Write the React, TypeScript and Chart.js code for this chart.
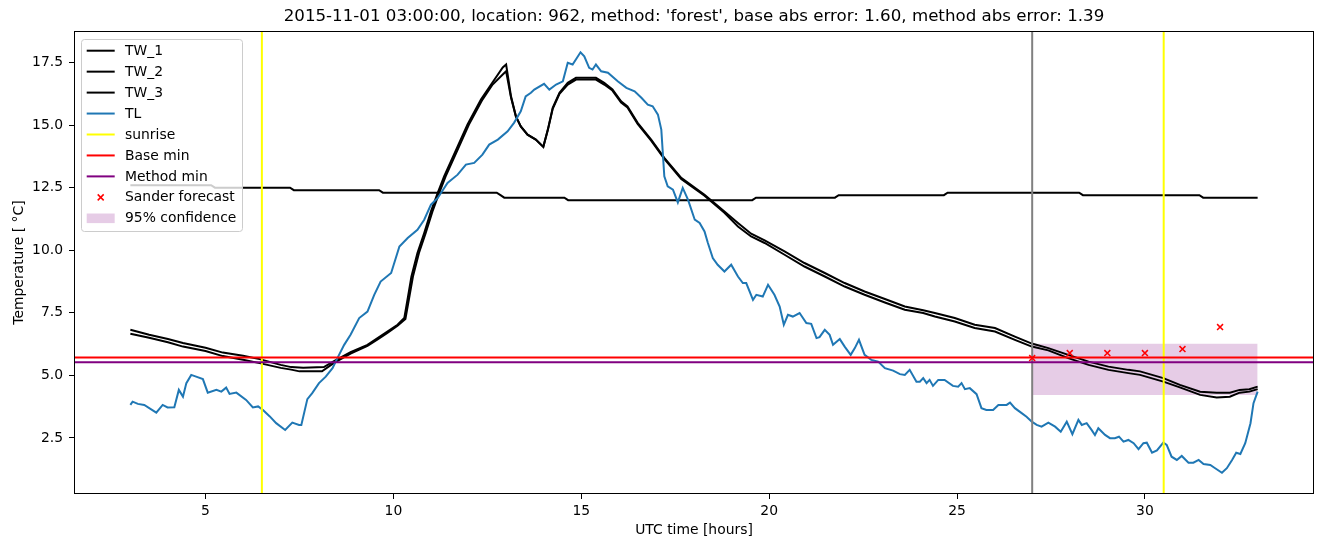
import React, { useEffect, useRef } from 'react';
import { Chart, registerables } from 'chart.js';

Chart.register(...registerables);

const TITLE = "2015-11-01 03:00:00, location: 962, method: 'forest', base abs error: 1.60, method abs error: 1.39";
const X_LABEL = 'UTC time [hours]';
const Y_LABEL = 'Temperature [ \u00B0C]';

const X_MIN = 1.5;
const X_MAX = 34.5;
const Y_MIN = 0.26;
const Y_MAX = 18.76;
const X_TICKS = [5, 10, 15, 20, 25, 30];
const Y_TICKS = [2.5, 5, 7.5, 10, 12.5, 15, 17.5];

const TW_1: [number, number][] = [
  [3, 12.6], [5.15, 12.6], [5.25, 12.5], [7.25, 12.5], [7.35, 12.4], [9.62, 12.4], [9.72, 12.3],
  [12.75, 12.3], [12.85, 12.2], [12.95, 12.1], [14.55, 12.1], [14.65, 12.0], [19.55, 12.0],
  [19.65, 12.1], [21.75, 12.1], [21.85, 12.2], [24.65, 12.2], [24.75, 12.3], [28.25, 12.3],
  [28.35, 12.2], [31.45, 12.2], [31.55, 12.1], [33, 12.1],
];

const TW_2: [number, number][] = [
  [3.0, 6.82], [3.5, 6.62], [4.0, 6.45], [4.4, 6.29], [5.0, 6.1], [5.46, 5.91], [6.0, 5.78],
  [6.44, 5.65], [7.0, 5.42], [7.28, 5.33], [7.6, 5.3], [8.15, 5.33], [8.42, 5.57], [8.86, 5.93],
  [9.31, 6.22], [9.58, 6.49], [9.84, 6.75], [10.11, 7.02], [10.29, 7.29], [10.39, 8.15],
  [10.48, 8.95], [10.64, 9.89], [10.82, 10.69], [11.0, 11.55], [11.18, 12.29], [11.35, 12.95],
  [11.53, 13.55], [11.71, 14.15], [11.97, 15.02], [12.33, 16.02], [12.6, 16.62], [12.91, 17.3],
  [13.0, 17.42], [13.13, 16.15], [13.26, 15.35], [13.39, 14.95], [13.57, 14.62], [13.79, 14.42],
  [13.99, 14.13], [14.11, 14.82], [14.24, 15.69], [14.42, 16.29], [14.64, 16.69], [14.86, 16.89],
  [15.39, 16.89], [15.61, 16.69], [15.83, 16.42], [16.06, 15.95], [16.23, 15.75], [16.5, 15.09],
  [16.86, 14.42], [17.21, 13.69], [17.66, 12.89], [18.28, 12.22], [18.81, 11.55], [19.17, 11.09],
  [19.52, 10.66], [19.88, 10.39], [20.41, 9.95], [20.94, 9.49], [21.48, 9.09], [22.01, 8.69],
  [22.54, 8.35], [23.08, 8.05], [23.61, 7.75], [24.1, 7.6], [24.41, 7.49], [24.94, 7.29],
  [25.47, 7.02], [26.01, 6.89], [26.54, 6.55], [26.99, 6.27], [27.43, 6.09], [27.96, 5.82],
  [28.5, 5.55], [29.03, 5.35], [29.56, 5.22], [29.87, 5.16], [30.49, 4.89], [30.93, 4.62],
  [31.47, 4.35], [31.91, 4.31], [32.26, 4.31], [32.52, 4.42], [32.78, 4.45], [33.0, 4.55],
];

const TW_3: [number, number][] = [
  [3.0, 6.66], [3.5, 6.5], [4.0, 6.32], [4.4, 6.15], [5.0, 5.97], [5.46, 5.77], [6.0, 5.62],
  [6.44, 5.49], [7.0, 5.3], [7.28, 5.23], [7.5, 5.16], [8.1, 5.16], [8.42, 5.5], [8.86, 5.87],
  [9.31, 6.18], [9.58, 6.44], [9.84, 6.7], [10.11, 6.98], [10.32, 7.25], [10.42, 8.1],
  [10.52, 8.95], [10.68, 9.89], [10.86, 10.69], [11.04, 11.55], [11.22, 12.29], [11.39, 12.95],
  [11.57, 13.55], [11.75, 14.15], [12.01, 15.02], [12.37, 16.02], [12.64, 16.62], [12.93, 17.05],
  [13.0, 17.15], [13.13, 16.1], [13.26, 15.35], [13.39, 14.95], [13.57, 14.62], [13.79, 14.42],
  [13.99, 14.13], [14.11, 14.8], [14.24, 15.65], [14.42, 16.25], [14.64, 16.62], [14.86, 16.82],
  [15.39, 16.82], [15.61, 16.62], [15.83, 16.38], [16.06, 15.9], [16.23, 15.7], [16.5, 15.05],
  [16.86, 14.38], [17.21, 13.65], [17.66, 12.85], [18.28, 12.18], [18.81, 11.5], [19.17, 10.95],
  [19.52, 10.55], [19.88, 10.29], [20.41, 9.82], [20.94, 9.35], [21.48, 8.95], [22.01, 8.55],
  [22.54, 8.22], [23.08, 7.91], [23.61, 7.62], [24.1, 7.49], [24.41, 7.35], [24.94, 7.15],
  [25.47, 6.89], [26.01, 6.75], [26.54, 6.42], [26.99, 6.15], [27.43, 6.0], [27.96, 5.69],
  [28.5, 5.42], [29.03, 5.22], [29.56, 5.09], [29.87, 5.02], [30.49, 4.75], [30.93, 4.52],
  [31.47, 4.22], [31.91, 4.12], [32.26, 4.15], [32.52, 4.31], [32.78, 4.35], [33.0, 4.45],
];

const TL: [number, number][] = [
  [3.0, 3.82], [3.06, 3.95], [3.2, 3.86], [3.37, 3.82], [3.69, 3.51], [3.86, 3.82], [3.99, 3.72],
  [4.17, 3.73], [4.29, 4.42], [4.4, 4.15], [4.49, 4.69], [4.62, 5.02], [4.75, 4.95], [4.93, 4.85],
  [5.06, 4.31], [5.29, 4.42], [5.42, 4.35], [5.55, 4.51], [5.64, 4.26], [5.82, 4.31], [6.08, 4.02],
  [6.26, 3.72], [6.4, 3.76], [6.53, 3.62], [6.71, 3.36], [6.88, 3.09], [7.12, 2.82], [7.31, 3.11],
  [7.49, 3.02], [7.55, 3.02], [7.71, 4.05], [7.84, 4.29], [8.02, 4.69], [8.2, 4.95], [8.38, 5.29],
  [8.51, 5.69], [8.69, 6.22], [8.86, 6.62], [9.09, 7.29], [9.31, 7.55], [9.49, 8.22], [9.66, 8.75],
  [9.94, 9.09], [10.16, 10.15], [10.38, 10.49], [10.64, 10.82], [10.82, 11.22], [11.0, 11.82],
  [11.18, 12.09], [11.44, 12.69], [11.71, 13.02], [11.93, 13.42], [12.15, 13.49], [12.37, 13.82],
  [12.55, 14.22], [12.78, 14.42], [13.04, 14.75], [13.21, 15.09], [13.39, 15.55], [13.52, 16.15],
  [13.66, 16.29], [13.75, 16.42], [14.01, 16.65], [14.15, 16.42], [14.33, 16.62], [14.51, 16.75],
  [14.64, 17.49], [14.77, 17.42], [14.98, 17.91], [15.08, 17.75], [15.21, 17.29], [15.3, 17.22],
  [15.39, 17.42], [15.53, 17.15], [15.71, 17.09], [15.97, 16.75], [16.2, 16.49], [16.42, 16.35],
  [16.6, 16.09], [16.77, 15.82], [16.9, 15.75], [17.04, 15.42], [17.13, 14.82], [17.21, 12.95],
  [17.3, 12.55], [17.44, 12.42], [17.57, 11.91], [17.7, 12.49], [17.84, 12.02], [18.02, 11.22],
  [18.15, 11.09], [18.28, 10.75], [18.37, 10.29], [18.5, 9.69], [18.63, 9.42], [18.81, 9.15],
  [18.99, 9.42], [19.17, 8.95], [19.3, 8.69], [19.39, 8.69], [19.57, 8.02], [19.66, 8.22],
  [19.83, 8.15], [19.97, 8.62], [20.14, 8.22], [20.28, 7.75], [20.39, 7.02], [20.5, 7.42],
  [20.63, 7.35], [20.81, 7.49], [20.99, 7.09], [21.12, 7.06], [21.26, 6.49], [21.34, 6.53],
  [21.48, 6.82], [21.61, 6.62], [21.7, 6.22], [21.88, 6.45], [22.01, 6.15], [22.17, 5.82],
  [22.28, 6.09], [22.39, 6.42], [22.54, 5.82], [22.72, 5.62], [22.9, 5.55], [23.08, 5.29],
  [23.3, 5.19], [23.48, 5.05], [23.61, 5.02], [23.74, 5.22], [23.92, 4.75], [24.01, 4.75],
  [24.1, 4.89], [24.19, 4.69], [24.27, 4.82], [24.36, 4.58], [24.5, 4.82], [24.67, 4.82],
  [24.89, 4.58], [25.03, 4.55], [25.12, 4.69], [25.21, 4.45], [25.34, 4.49], [25.52, 4.25],
  [25.65, 3.69], [25.78, 3.62], [25.96, 3.62], [26.1, 3.82], [26.32, 3.82], [26.41, 3.91],
  [26.54, 3.69], [26.72, 3.49], [26.85, 3.35], [26.99, 3.15], [27.12, 3.02], [27.25, 2.95],
  [27.43, 3.11], [27.61, 2.95], [27.76, 2.75], [27.92, 3.15], [28.07, 2.65], [28.23, 3.22],
  [28.32, 3.02], [28.45, 3.09], [28.58, 2.82], [28.67, 2.62], [28.76, 2.89], [28.94, 2.62],
  [29.07, 2.49], [29.2, 2.49], [29.31, 2.55], [29.43, 2.35], [29.56, 2.42], [29.7, 2.29],
  [29.83, 2.05], [29.96, 2.29], [30.05, 2.31], [30.19, 1.91], [30.32, 2.0], [30.49, 2.31],
  [30.58, 2.22], [30.71, 1.75], [30.85, 1.62], [30.98, 1.78], [31.16, 1.51], [31.29, 1.51],
  [31.43, 1.62], [31.56, 1.46], [31.74, 1.42], [31.87, 1.29], [32.05, 1.11], [32.18, 1.29],
  [32.32, 1.62], [32.43, 1.91], [32.54, 1.86], [32.67, 2.29], [32.81, 3.09], [32.89, 3.89],
  [33.0, 4.35],
];

const SUNRISE_HOURS = [6.5, 30.5];
const FORECAST_HOUR = 27;
const BASE_MIN = 5.71;
const METHOD_MIN = 5.52;
const SANDER_HOURS = [27, 28, 29, 30, 31, 32];
const SANDER_VALUES = [5.69, 5.89, 5.89, 5.89, 6.05, 6.93];
const CONF_HOURS = [27, 33];
const CONF_LOW = 4.22;
const CONF_HIGH = 6.26;

const FONT = '"DejaVu Sans", "Liberation Sans", sans-serif';

const LEGEND_ITEMS = [
  { label: 'TW_1', kind: 'line', color: '#000000' },
  { label: 'TW_2', kind: 'line', color: '#000000' },
  { label: 'TW_3', kind: 'line', color: '#000000' },
  { label: 'TL', kind: 'line', color: '#1f77b4' },
  { label: 'sunrise', kind: 'line', color: '#ffff00' },
  { label: 'Base min', kind: 'line', color: '#ff0000' },
  { label: 'Method min', kind: 'line', color: '#800080' },
  { label: 'Sander forecast', kind: 'x', color: '#ff0000' },
  { label: '95% confidence', kind: 'patch', color: 'rgba(128,0,128,0.2)' },
];

const pts = (arr: [number, number][]) => arr.map(([x, y]) => ({ x, y }));

const decorPlugin = {
  id: 'decor',
  beforeDraw(chart: any) {
    const { ctx } = chart;
    ctx.save();
    ctx.fillStyle = '#ffffff';
    ctx.fillRect(0, 0, chart.width, chart.height);
    ctx.restore();
  },
  afterDraw(chart: any) {
    const { ctx, chartArea: a } = chart;
    ctx.save();
    // frame (all four spines)
    ctx.strokeStyle = '#000000';
    ctx.lineWidth = 1;
    ctx.strokeRect(a.left + 0.5, a.top + 0.5, a.right - a.left - 1, a.bottom - a.top - 1);

    const cx = (a.left + a.right) / 2;
    ctx.fillStyle = '#000000';
    ctx.textAlign = 'center';
    ctx.textBaseline = 'middle';
    ctx.font = `16.67px ${FONT}`;
    ctx.fillText(TITLE, cx, 17);
    ctx.font = `13.9px ${FONT}`;
    ctx.fillText(X_LABEL, cx, 530);
    ctx.save();
    ctx.translate(19, (a.top + a.bottom) / 2);
    ctx.rotate(-Math.PI / 2);
    ctx.fillText(Y_LABEL, 0, 0);
    ctx.restore();

    // legend
    const lx = 81.5, ly = 39.5, lw = 161, lh = 192, r = 3;
    ctx.beginPath();
    ctx.moveTo(lx + r, ly);
    ctx.lineTo(lx + lw - r, ly);
    ctx.quadraticCurveTo(lx + lw, ly, lx + lw, ly + r);
    ctx.lineTo(lx + lw, ly + lh - r);
    ctx.quadraticCurveTo(lx + lw, ly + lh, lx + lw - r, ly + lh);
    ctx.lineTo(lx + r, ly + lh);
    ctx.quadraticCurveTo(lx, ly + lh, lx, ly + lh - r);
    ctx.lineTo(lx, ly + r);
    ctx.quadraticCurveTo(lx, ly, lx + r, ly);
    ctx.closePath();
    ctx.fillStyle = 'rgba(255,255,255,0.8)';
    ctx.fill();
    ctx.strokeStyle = '#cccccc';
    ctx.lineWidth = 1;
    ctx.stroke();

    ctx.textAlign = 'left';
    ctx.textBaseline = 'middle';
    ctx.font = `13.9px ${FONT}`;
    LEGEND_ITEMS.forEach((it, i) => {
      const y = 50.7 + i * 20.95;
      const hx0 = 86.7, hx1 = 114.7;
      if (it.kind === 'line') {
        ctx.strokeStyle = it.color;
        ctx.lineWidth = 2;
        ctx.beginPath();
        ctx.moveTo(hx0, y);
        ctx.lineTo(hx1, y);
        ctx.stroke();
      } else if (it.kind === 'x') {
        const m = (hx0 + hx1) / 2, s = 3;
        ctx.strokeStyle = it.color;
        ctx.lineWidth = 1.5;
        ctx.beginPath();
        ctx.moveTo(m - s, y - s);
        ctx.lineTo(m + s, y + s);
        ctx.moveTo(m - s, y + s);
        ctx.lineTo(m + s, y - s);
        ctx.stroke();
      } else {
        ctx.fillStyle = it.color;
        ctx.fillRect(hx0, y - 4.8, hx1 - hx0, 9.6);
      }
      ctx.fillStyle = '#000000';
      ctx.fillText(it.label, 125, y + 0.5);
    });
    ctx.restore();
  },
};

export default function App() {
  const ref = useRef<HTMLCanvasElement | null>(null);

  useEffect(() => {
    if (!ref.current) return;
    const lineDs = (label: string, data: any[], color: string, order: number, width = 2) => ({
      label,
      data,
      borderColor: color,
      backgroundColor: color,
      borderWidth: width,
      pointRadius: 0,
      showLine: true,
      tension: 0,
      order,
    });

    const datasets: any[] = [
      {
        label: 'conf_high',
        data: CONF_HOURS.map((x) => ({ x, y: CONF_HIGH })),
        borderWidth: 0,
        borderColor: 'rgba(0,0,0,0)',
        pointRadius: 0,
        showLine: true,
        fill: false,
        order: 30,
      },
      {
        label: '95% confidence',
        data: CONF_HOURS.map((x) => ({ x, y: CONF_LOW })),
        borderWidth: 0,
        borderColor: 'rgba(0,0,0,0)',
        backgroundColor: 'rgba(128,0,128,0.2)',
        pointRadius: 0,
        showLine: true,
        fill: '-1',
        order: 29,
      },
      lineDs('TW_1', pts(TW_1), '#000000', 12),
      lineDs('TW_2', pts(TW_2), '#000000', 11),
      lineDs('TW_3', pts(TW_3), '#000000', 10),
      lineDs('TL', pts(TL), '#1f77b4', 9),
      ...SUNRISE_HOURS.map((h, i) =>
        lineDs(i === 0 ? 'sunrise' : 'sunrise_2', [{ x: h, y: Y_MIN - 5 }, { x: h, y: Y_MAX + 5 }], '#ffff00', 8)
      ),
      lineDs('forecast', [{ x: FORECAST_HOUR, y: Y_MIN - 5 }, { x: FORECAST_HOUR, y: Y_MAX + 5 }], '#808080', 7),
      lineDs('Base min', [{ x: X_MIN - 5, y: BASE_MIN }, { x: X_MAX + 5, y: BASE_MIN }], '#ff0000', 6),
      lineDs('Method min', [{ x: X_MIN - 5, y: METHOD_MIN }, { x: X_MAX + 5, y: METHOD_MIN }], '#800080', 5),
      {
        label: 'Sander forecast',
        data: SANDER_HOURS.map((x, i) => ({ x, y: SANDER_VALUES[i] })),
        showLine: false,
        pointStyle: 'crossRot',
        pointRadius: 4.2,
        pointBorderWidth: 1.5,
        borderColor: '#ff0000',
        backgroundColor: '#ff0000',
        order: 4,
      },
    ];

    const tickFont = { family: FONT, size: 13.9 };
    const chart = new Chart(ref.current, {
      type: 'scatter',
      data: { datasets },
      plugins: [decorPlugin],
      options: {
        animation: false,
        responsive: false,
        devicePixelRatio: 1,
        layout: { padding: { top: 31, right: 10, left: 0, bottom: 0 } },
        plugins: {
          legend: { display: false },
          tooltip: { enabled: false },
          title: { display: false },
        },
        scales: {
          x: {
            type: 'linear',
            min: X_MIN,
            max: X_MAX,
            afterFit: (s: any) => { s.height = 53; },
            afterBuildTicks: (s: any) => { s.ticks = X_TICKS.map((v) => ({ value: v })); },
            ticks: {
              font: tickFont,
              color: '#000000',
              padding: 4,
              maxRotation: 0,
              autoSkip: false,
              callback: (v: any) => String(v),
            },
            grid: {
              display: true,
              drawOnChartArea: false,
              drawTicks: true,
              tickLength: 5,
              tickWidth: 1,
              tickColor: '#000000',
            },
            border: { display: false },
          },
          y: {
            type: 'linear',
            min: Y_MIN,
            max: Y_MAX,
            afterFit: (s: any) => { s.width = 74; },
            afterBuildTicks: (s: any) => { s.ticks = Y_TICKS.map((v) => ({ value: v })); },
            ticks: {
              font: tickFont,
              color: '#000000',
              padding: 6,
              autoSkip: false,
              callback: (v: any) => Number(v).toFixed(1),
            },
            grid: {
              display: true,
              drawOnChartArea: false,
              drawTicks: true,
              tickLength: 5,
              tickWidth: 1,
              tickColor: '#000000',
            },
            border: { display: false },
          },
        },
      },
    } as any);
    return () => chart.destroy();
  }, []);

  return (
    <div style={{ position: 'absolute', left: 0, top: 0, width: 1324, height: 547, background: '#fff' }}>
      <canvas ref={ref} width={1324} height={547} style={{ display: 'block', width: 1324, height: 547 }} />
    </div>
  );
}
